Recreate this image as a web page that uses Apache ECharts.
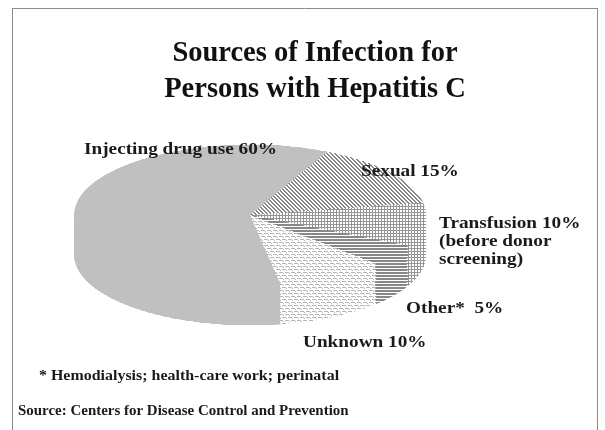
<!DOCTYPE html>
<html><head><meta charset="utf-8">
<script src="https://cdn.jsdelivr.net/npm/echarts@6/dist/echarts.min.js"></script>
<style>
html,body{margin:0;padding:0;background:#fff;}
#wrap{position:relative;width:605px;height:430px;overflow:hidden;background:#fff;}
#pie{position:absolute;left:0;top:143px;width:605px;height:460px;transform:scaleY(0.4);transform-origin:0 0;}
#pie canvas{image-rendering:pixelated;}
#txt{position:absolute;left:0;top:0;width:605px;height:430px;}
</style></head><body>
<div id="wrap"><div id="pie"></div><div id="txt"></div></div>
<script>
// ---- data ----
const categories = ['Sexual', 'Transfusion', 'Other*', 'Unknown', 'Injecting drug use'];
const values = [15, 10, 5, 10, 60];
const labelTexts = [
  'Sexual 15%',
  'Transfusion 10%\n(before donor\nscreening)',
  'Other*  5%',
  'Unknown 10%',
  'Injecting drug use 60%'
];
const titleText = 'Sources of Infection for\nPersons with Hepatitis C';
const footnote = '* Hemodialysis; health-care work; perinatal';
const sourceText = 'Source: Centers for Disease Control and Prevention';

// ---- patterns (pre-stretched vertically to undo the CSS squash) ----
const K = 2.5;
function tile(w, hd, fg, bg, fn) {
  const c = document.createElement('canvas');
  const h = Math.round(hd * K);
  c.width = w; c.height = h;
  const ctx = c.getContext('2d');
  const img = ctx.createImageData(w, h);
  for (let yu = 0; yu < h; yu++) {
    const y = Math.floor(yu / K);
    for (let x = 0; x < w; x++) {
      const col = fn(x, y) ? fg : bg;
      const i = (yu * w + x) * 4;
      img.data[i] = col[0]; img.data[i + 1] = col[1]; img.data[i + 2] = col[2]; img.data[i + 3] = 255;
    }
  }
  ctx.putImageData(img, 0, 0);
  return { image: c, repeat: 'repeat' };
}
const W = [255, 255, 255];
const fills = [
  tile(4, 4, [135, 135, 135], W, (x, y) => (((x - y) % 4) + 4) % 4 < 2),
  tile(6, 6, [150, 150, 150], W, (x, y) => x % 3 === 0 || y % 3 === 0),
  tile(6, 6, [135, 135, 135], W, (x, y) => y % 3 !== 2),
  tile(6, 6, [180, 180, 180], W, (x, y) => {
    const o = 3 * (Math.floor(y / 3) % 2);
    const xx = (x + o) % 6;
    return (y % 3 === 0 && xx < 4) || (y % 3 === 1 && xx === 4);
  }),
  '#c0c0c0'
];

// ---- pie (drawn round, squashed to an ellipse, extruded for depth) ----
const pieChart = echarts.init(document.getElementById('pie'), null, { renderer: 'canvas', devicePixelRatio: 1 });
const pieData = categories.map((n, i) => ({ name: n, value: values[i], itemStyle: { color: fills[i] } }));
const series = [];
for (let d = 100; d >= 0; d -= 4) {
  series.push({
    type: 'pie', silent: true, animation: false,
    center: [250, 180 + d], radius: 176,
    startAngle: 64, clockwise: true,
    label: { show: false }, labelLine: { show: false },
    itemStyle: { borderWidth: 0 },
    emphasis: { disabled: true },
    data: pieData
  });
}
pieChart.setOption({ animation: false, series });

// ---- text overlay ----
const txtChart = echarts.init(document.getElementById('txt'));
const serif = '"Liberation Serif", "Times New Roman", serif';
const labelPos = [[361, 171], [439, 241], [406, 308], [303, 342], [84, 149]];
const graphics = labelTexts.map((t, i) => ({
  type: 'text', x: labelPos[i][0], y: labelPos[i][1], scaleX: 1.1, silent: true,
  style: { text: t, font: 'bold 17.5px ' + serif, fill: '#1a1a1a', align: 'left', verticalAlign: 'middle', lineHeight: 18 }
}));
graphics.push(
  { type: 'text', x: 39, y: 376, scaleX: 1.1, silent: true,
    style: { text: footnote, font: 'bold 14.5px ' + serif, fill: '#1a1a1a', verticalAlign: 'middle' } },
  { type: 'text', x: 18, y: 411, scaleX: 1.1, silent: true,
    style: { text: sourceText, font: 'bold 13.6px ' + serif, fill: '#1a1a1a', verticalAlign: 'middle' } },
  { type: 'line', silent: true, shape: { x1: 12.5, y1: 8, x2: 12.5, y2: 430 }, style: { stroke: '#8c8c8c', lineWidth: 1 } },
  { type: 'line', silent: true, shape: { x1: 12, y1: 8.5, x2: 597, y2: 8.5 }, style: { stroke: '#8c8c8c', lineWidth: 1 } },
  { type: 'line', silent: true, shape: { x1: 597.5, y1: 8, x2: 597.5, y2: 430 }, style: { stroke: '#8c8c8c', lineWidth: 1 } }
);
txtChart.setOption({
  animation: false,
  title: {
    text: titleText, left: 315, top: 36, padding: 0, textAlign: 'center',
    textStyle: { fontFamily: serif, fontWeight: 'bold', fontSize: 28.5, color: '#111', lineHeight: 36 }
  },
  graphic: graphics
});
</script>
</body></html>
